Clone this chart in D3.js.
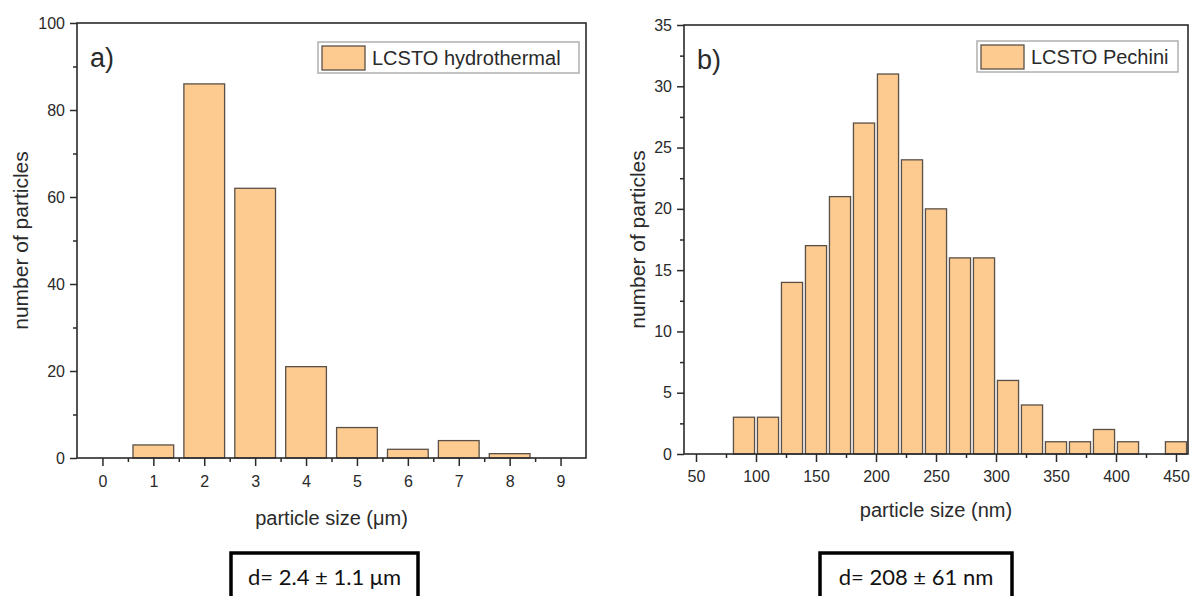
<!DOCTYPE html>
<html>
<head>
<meta charset="utf-8">
<script src="https://cdn.jsdelivr.net/npm/d3@7"></script>
<style>
  body { margin: 0; background: #fff; }
  svg { display: block; }
</style>
</head>
<body>
<div id="chart"></div>
<script>
// panel a) hydrothermal, size in micrometres
const sizesA = [0, 1, 2, 3, 4, 5, 6, 7, 8, 9];
const countsA = [0, 3, 86, 62, 21, 7, 2, 4, 1, 0];
const xTicksA = [0, 1, 2, 3, 4, 5, 6, 7, 8, 9];
const yTicksA = [0, 20, 40, 60, 80, 100];

// panel b) Pechini, size in nm
const sizesB = [90, 110, 130, 150, 170, 190, 210, 230, 250, 270, 290, 310, 330, 350, 370, 390, 410, 430, 450];
const countsB = [3, 3, 14, 17, 21, 27, 31, 24, 20, 16, 16, 6, 4, 1, 1, 2, 1, 0, 1];
const xTicksB = [50, 100, 150, 200, 250, 300, 350, 400, 450];
const yTicksB = [0, 5, 10, 15, 20, 25, 30, 35];

const barFill = "#fdca8f";
const barStroke = "#5a5048";
const ink = "#2a2a2a";
const font = "'Liberation Sans', Arial, sans-serif";

const svg = d3.select("#chart").append("svg")
    .attr("width", 1195)
    .attr("height", 596);

function drawPanel(p) {
    const x = d3.scaleLinear().domain(p.xDomain).range([p.left, p.right]);
    const y = d3.scaleLinear().domain(p.yDomain).range([p.bottom, p.top]);
    const g = svg.append("g");

    // bars
    g.append("g")
        .selectAll("rect")
        .data(p.sizes.map((s, i) => ({ s: s, c: p.counts[i] })).filter(d => d.c > 0))
        .join("rect")
        .attr("x", d => x(d.s - p.half))
        .attr("width", d => x(d.s + p.half) - x(d.s - p.half))
        .attr("y", d => y(d.c))
        .attr("height", d => y(0) - y(d.c))
        .attr("fill", barFill)
        .attr("stroke", barStroke)
        .attr("stroke-width", 1.3);

    // minor ticks
    const xMinor = p.xTicks.slice(0, -1).map((t, i) => (t + p.xTicks[i + 1]) / 2);
    const yMinor = p.yTicks.slice(0, -1).map((t, i) => (t + p.yTicks[i + 1]) / 2);

    g.append("g")
        .attr("transform", `translate(0,${p.bottom})`)
        .call(d3.axisBottom(x).tickValues(xMinor).tickSize(4).tickSizeOuter(0).tickFormat(""))
        .call(a => a.select(".domain").remove());
    g.append("g")
        .attr("transform", `translate(${p.left},0)`)
        .call(d3.axisLeft(y).tickValues(yMinor).tickSize(4).tickSizeOuter(0).tickFormat(""))
        .call(a => a.select(".domain").remove());

    const xAxis = g.append("g")
        .attr("transform", `translate(0,${p.bottom})`)
        .call(d3.axisBottom(x).tickValues(p.xTicks).tickSize(8).tickSizeOuter(0).tickPadding(p.xPad));
    xAxis.select(".domain").remove();

    const yAxis = g.append("g")
        .attr("transform", `translate(${p.left},0)`)
        .call(d3.axisLeft(y).tickValues(p.yTicks).tickSize(7).tickSizeOuter(0).tickPadding(5));
    yAxis.select(".domain").remove();

    g.selectAll(".tick line").attr("stroke", ink).attr("stroke-width", 1.5);
    g.selectAll(".tick text")
        .attr("fill", ink)
        .attr("font-family", font)
        .attr("font-size", 16);

    // frame
    g.append("rect")
        .attr("x", p.left)
        .attr("y", p.top)
        .attr("width", p.right - p.left)
        .attr("height", p.bottom - p.top)
        .attr("fill", "none")
        .attr("stroke", ink)
        .attr("stroke-width", 1.6);

    // panel letter
    g.append("text")
        .attr("x", p.left + 13)
        .attr("y", p.top + 44)
        .attr("font-family", font)
        .attr("font-size", 27)
        .attr("fill", ink)
        .text(p.letter);

    // legend
    const lx = p.right - p.legendInset - p.legendWidth;
    const ly = p.top + p.legendTop;
    g.append("rect")
        .attr("x", lx).attr("y", ly)
        .attr("width", p.legendWidth).attr("height", 31)
        .attr("fill", "#fff")
        .attr("stroke", "#b0b0b0")
        .attr("stroke-width", 1.5);
    g.append("rect")
        .attr("x", lx + 4).attr("y", ly + 4)
        .attr("width", 43).attr("height", 24)
        .attr("fill", barFill)
        .attr("stroke", barStroke)
        .attr("stroke-width", 1.3);
    g.append("text")
        .attr("x", lx + 54).attr("y", ly + 23)
        .attr("font-family", font)
        .attr("font-size", 20)
        .attr("fill", ink)
        .text(p.legend);

    // axis titles
    g.append("text")
        .attr("x", (p.left + p.right) / 2)
        .attr("y", p.bottom + p.xTitleGap)
        .attr("text-anchor", "middle")
        .attr("font-family", font)
        .attr("font-size", 20)
        .attr("fill", ink)
        .text(p.xTitle);
    g.append("text")
        .attr("transform", `translate(${p.yTitleX},${(p.top + p.bottom) / 2}) rotate(-90)`)
        .attr("text-anchor", "middle")
        .attr("font-family", font)
        .attr("font-size", 21)
        .attr("fill", ink)
        .text("number of particles");

    // mean size box
    g.append("rect")
        .attr("x", p.boxX).attr("y", 553)
        .attr("width", p.boxW).attr("height", 70)
        .attr("fill", "#fff")
        .attr("stroke", "#000")
        .attr("stroke-width", 3.5);
    g.append("text")
        .attr("x", p.boxX + p.boxW / 2)
        .attr("y", 585)
        .attr("text-anchor", "middle")
        .attr("font-family", "Lato, 'Open Sans', sans-serif")
        .attr("font-size", 22)
        .attr("fill", "#111")
        .text(p.note);
}

drawPanel({
    sizes: sizesA, counts: countsA, xTicks: xTicksA, yTicks: yTicksA,
    xDomain: [-0.5, 9.5], yDomain: [0, 100], half: 0.4,
    left: 77, right: 586, top: 23, bottom: 458,
    xPad: 10, xTitleGap: 67, yTitleX: 28,
    letter: "a)", legend: "LCSTO hydrothermal", legendWidth: 261, legendInset: 7, legendTop: 19,
    xTitle: "particle size (\u03bcm)",
    boxX: 231, boxW: 187, note: "d= 2.4 \u00b1 1.1 \u03bcm"
});

drawPanel({
    sizes: sizesB, counts: countsB, xTicks: xTicksB, yTicks: yTicksB,
    xDomain: [40, 460], yDomain: [0, 35], half: 8.8,
    left: 684, right: 1188, top: 25, bottom: 454,
    xPad: 9, xTitleGap: 63, yTitleX: 645,
    letter: "b)", legend: "LCSTO Pechini", legendWidth: 201, legendInset: 10, legendTop: 16,
    xTitle: "particle size (nm)",
    boxX: 820, boxW: 192, note: "d= 208 \u00b1 61 nm"
});
</script>
</body>
</html>
